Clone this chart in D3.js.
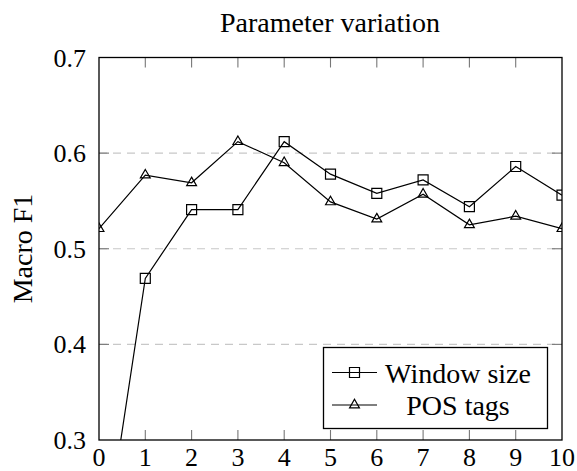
<!DOCTYPE html>
<html>
<head>
<meta charset="utf-8">
<script src="https://cdn.jsdelivr.net/npm/d3@7"></script>
<style>
  body { margin: 0; background: #fff; }
  svg text { font-family: "Liberation Serif", "Times New Roman", Times, "DejaVu Serif", serif; }
</style>
</head>
<body>
<svg id="chart" width="577" height="471"></svg>
<script>
const steps = [0, 1, 2, 3, 4, 5, 6, 7, 8, 9, 10];
const windowSize = [0.15, 0.469, 0.541, 0.541, 0.612, 0.578, 0.558, 0.572, 0.544, 0.586, 0.556];
const posTags = [0.521, 0.577, 0.569, 0.612, 0.590, 0.549, 0.531, 0.557, 0.525, 0.534, 0.521];
const yTicks = [0.3, 0.4, 0.5, 0.6, 0.7];
const gridTicks = [0.4, 0.5, 0.6];
const seriesNames = ["Window size", "POS tags"];

var svg = d3.select("#chart");
var plotLeft = 99, plotRight = 562, plotTop = 57.5, plotBottom = 440;

var x = d3.scaleLinear().domain([0, 10]).range([plotLeft, plotRight]);
var y = d3.scaleLinear().domain([0.3, 0.7]).range([plotBottom, plotTop]);

svg.append("defs").append("clipPath").attr("id", "plot-clip")
  .append("rect")
  .attr("x", plotLeft).attr("y", plotTop)
  .attr("width", plotRight - plotLeft).attr("height", plotBottom - plotTop);

// dashed grid
svg.selectAll(".grid")
  .data(gridTicks)
  .enter().append("line")
  .attr("x1", plotLeft).attr("x2", plotRight)
  .attr("y1", d => y(d)).attr("y2", d => y(d))
  .attr("stroke", "#c8c8c8")
  .attr("stroke-width", 1.2)
  .attr("stroke-dasharray", "8,6");

// inner ticks on all four sides
var tickLen = 10;
steps.slice(1, -1).forEach(s => {
  svg.append("line").attr("x1", x(s)).attr("x2", x(s))
    .attr("y1", plotBottom).attr("y2", plotBottom - tickLen)
    .attr("stroke", "#777").attr("stroke-width", 1.1);
  svg.append("line").attr("x1", x(s)).attr("x2", x(s))
    .attr("y1", plotTop).attr("y2", plotTop + tickLen)
    .attr("stroke", "#777").attr("stroke-width", 1.1);
});
gridTicks.forEach(t => {
  svg.append("line").attr("x1", plotLeft).attr("x2", plotLeft + tickLen)
    .attr("y1", y(t)).attr("y2", y(t))
    .attr("stroke", "#777").attr("stroke-width", 1.1);
  svg.append("line").attr("x1", plotRight).attr("x2", plotRight - tickLen)
    .attr("y1", y(t)).attr("y2", y(t))
    .attr("stroke", "#777").attr("stroke-width", 1.1);
});

// tick labels
svg.selectAll(".xlab")
  .data(steps)
  .enter().append("text")
  .attr("x", d => x(d))
  .attr("y", 466)
  .attr("text-anchor", "middle")
  .style("font-size", "26px")
  .text(d => d);

svg.selectAll(".ylab")
  .data(yTicks)
  .enter().append("text")
  .attr("x", 86)
  .attr("y", d => y(d) + 9)
  .attr("text-anchor", "end")
  .style("font-size", "26px")
  .text(d => d3.format(".1f")(d));

// series
var line = d3.line().x((d, i) => x(steps[i])).y(d => y(d));
var plot = svg.append("g").attr("clip-path", "url(#plot-clip)");

var sq = d3.symbol().type(d3.symbolSquare).size(100);
var tri = d3.symbol().type(d3.symbolTriangle).size(42);

[windowSize, posTags].forEach((vals, j) => {
  plot.append("path")
    .datum(vals)
    .attr("fill", "none")
    .attr("stroke", "#000")
    .attr("stroke-width", 1.2)
    .attr("d", line);
  plot.selectAll(".m" + j)
    .data(vals)
    .enter().append("path")
    .attr("transform", (d, i) => `translate(${x(steps[i])},${y(d)})`)
    .attr("d", j === 0 ? sq : tri)
    .attr("fill", "none")
    .attr("stroke", "#000")
    .attr("stroke-width", 1.2);
});

// frame
svg.append("rect")
  .attr("x", plotLeft).attr("y", plotTop)
  .attr("width", plotRight - plotLeft).attr("height", plotBottom - plotTop)
  .attr("fill", "none")
  .attr("stroke", "#000")
  .attr("stroke-width", 1.3);

// legend
var lg = svg.append("g");
lg.append("rect")
  .attr("x", 323.5).attr("y", 347.5)
  .attr("width", 224).attr("height", 81)
  .attr("fill", "#fff")
  .attr("stroke", "#000")
  .attr("stroke-width", 1.3);
var rowsY = [372.5, 405];
seriesNames.forEach((name, j) => {
  lg.append("line")
    .attr("x1", 332).attr("x2", 377)
    .attr("y1", rowsY[j]).attr("y2", rowsY[j])
    .attr("stroke", "#000").attr("stroke-width", 1.2);
  lg.append("path")
    .attr("transform", `translate(354.5,${rowsY[j]})`)
    .attr("d", j === 0 ? sq : tri)
    .attr("fill", "none")
    .attr("stroke", "#000")
    .attr("stroke-width", 1.2);
  lg.append("text")
    .attr("x", 458)
    .attr("y", rowsY[j] + 10)
    .attr("text-anchor", "middle")
    .style("font-size", "28px")
    .text(name);
});

// title and axis label
svg.append("text")
  .attr("x", 330)
  .attr("y", 32)
  .attr("text-anchor", "middle")
  .style("font-size", "28px")
  .text("Parameter variation");

svg.append("text")
  .attr("transform", "rotate(-90)")
  .attr("x", -248.5)
  .attr("y", 32)
  .attr("text-anchor", "middle")
  .style("font-size", "28px")
  .text("Macro F1");
</script>
</body>
</html>
